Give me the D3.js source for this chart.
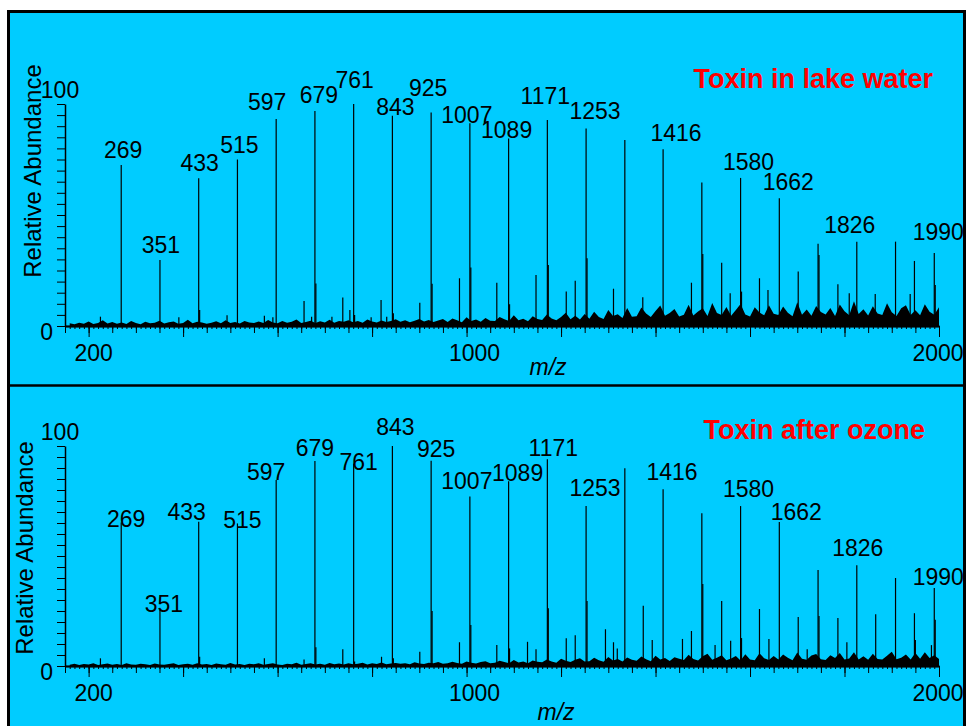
<!DOCTYPE html>
<html>
<head>
<meta charset="utf-8">
<script src="https://cdn.jsdelivr.net/npm/d3@7"></script>
<style>
  body { margin: 0; background: #fff; }
  svg { display: block; font-family: "Liberation Sans", Arial, sans-serif; }
</style>
</head>
<body>
<svg width="967" height="726"></svg>
<script>
// ---- data ----
var mzDomain = [150, 2000];
var peakMz = [269, 351, 433, 515, 597, 679, 761, 843, 925, 1007, 1089, 1171, 1253, 1335, 1416, 1498, 1580, 1662, 1744, 1826, 1908, 1990];
var lakeAbund = [72.5, 29.7, 66.5, 75, 93.2, 96.8, 100, 94.7, 96.2, 91.3, 84.5, 92.8, 89, 83.8, 79.6, 64.6, 66.7, 57.5, 37, 38, 38, 32.9];
var ozoneAbund = [65.2, 25.5, 65.6, 64.8, 84.5, 93.2, 92.1, 100, 93.3, 77, 84, 94, 72.7, 89.9, 80.3, 69.4, 72.7, 65.5, 43.6, 45.8, 40, 35.5];
var labelMz = [269, 351, 433, 515, 597, 679, 761, 843, 925, 1007, 1089, 1171, 1253, 1416, 1580, 1662, 1826, 1990];

var lakeMinorMz = [225, 391, 435, 493, 572, 590, 656, 672, 681, 715, 738, 753, 763, 798, 819, 831, 845, 901, 927, 985, 1009, 1064, 1091, 1147, 1173, 1211, 1230, 1255, 1311, 1373, 1476, 1500, 1540, 1558, 1582, 1620, 1638, 1702, 1746, 1786, 1810, 1865, 1939, 1948, 1992];
var lakeMinorAbund = [4.2, 3.9, 7.2, 4.8, 4.6, 3.9, 11.3, 4.2, 19.2, 4.2, 12.8, 7.2, 5, 3.9, 11.7, 4.2, 5.7, 10.5, 19, 21.5, 26.4, 19.5, 9.8, 23, 27.5, 15.5, 20.4, 30.5, 16.8, 12.9, 19.5, 32.4, 28.5, 14.7, 15.5, 21.5, 16.2, 24.5, 32, 18.8, 14.7, 14.4, 14.4, 29.3, 18.5];

var ozoneMinorMz = [225, 435, 572, 656, 681, 738, 763, 820, 845, 901, 927, 985, 1009, 1064, 1091, 1129, 1147, 1173, 1211, 1230, 1255, 1294, 1311, 1319, 1374, 1393, 1457, 1476, 1500, 1526, 1540, 1559, 1582, 1620, 1640, 1702, 1721, 1746, 1786, 1805, 1866, 1948, 1950, 1984, 1992];
var ozoneMinorAbund = [3.5, 4.2, 3.5, 3, 8.5, 7.6, 2, 4.2, 3.5, 6.5, 25, 10.8, 18.6, 9.5, 8, 11, 7.6, 26.2, 12.6, 14, 29.5, 16.7, 10.8, 8, 27.4, 11.8, 12.3, 15.9, 37.3, 9.5, 29.5, 11.5, 12.7, 25.9, 12.3, 22.3, 7.6, 22.7, 21.8, 10.8, 23.5, 24, 11.8, 9.5, 21];

// baseline noise, one value per 10 m/z from 160 to 2000
var noiseMz = d3.range(160, 2001, 10);
var lakeNoise = [
  1.2, 0.8, 1.5, 1.0, 2.0, 0.9, 1.4, 2.6, 1.1, 1.8,
  1.0, 1.6, 0.9, 2.2, 1.3, 0.8, 1.9, 1.2, 1.5, 2.4,
  1.1, 1.7, 2.0, 1.0, 1.4, 2.8, 1.2, 1.9, 1.6, 1.0,
  1.5, 2.1, 1.2, 2.6, 1.4, 1.8, 1.1, 2.3, 1.6, 1.3,
  2.0, 1.4, 2.7, 1.6, 1.2, 2.2, 1.5, 1.9, 2.9, 1.4,
  1.8, 2.4, 1.3, 2.1, 1.6, 2.8, 1.5, 2.2, 1.9, 2.6,
  1.7, 2.3, 1.5, 2.9, 2.0, 1.6, 2.5, 1.8, 2.2, 3.0,
  1.9, 2.6, 1.7, 2.4, 3.1, 2.0, 2.7, 1.8, 2.5, 3.2,
  1.8, 3.4, 2.6, 1.7, 3.9, 2.2, 2.9, 1.9, 3.6, 2.4,
  2.2, 4.1, 3.0, 2.3, 4.8, 2.6, 3.3, 2.1, 4.4, 3.1,
  2.7, 5.2, 3.4, 2.6, 4.1, 6.0, 3.0, 4.6, 2.9, 5.4,
  3.3, 6.4, 4.1, 3.1, 7.2, 4.5, 5.3, 3.6, 8.1, 4.2,
  4.4, 8.3, 5.6, 4.1, 6.8, 9.2, 4.6, 5.9, 7.7, 4.3,
  5.1, 9.6, 4.7, 6.5, 8.0, 4.5, 10.4, 5.8, 4.9, 8.6,
  4.6, 7.2, 9.9, 5.2, 4.3, 8.4, 6.1, 4.8, 9.3, 5.5,
  4.9, 8.8, 6.0, 4.4, 10.7, 5.1, 7.4, 4.6, 9.0, 6.3,
  5.2, 8.1, 4.5, 9.7, 6.6, 4.8, 11.2, 5.4, 7.5, 4.7,
  8.9, 5.6, 4.9, 10.3, 6.2, 4.5, 8.0, 9.4, 5.0, 7.1,
  4.8, 9.8, 6.4, 5.1, 8.5
];
var ozoneNoise = [
  0.6, 1.0, 0.5, 0.9, 0.7, 1.3, 0.5, 0.8, 1.1, 0.6,
  0.9, 0.5, 1.2, 0.7, 0.6, 1.0, 0.8, 0.5, 1.1, 0.7,
  0.6, 0.9, 1.3, 0.5, 0.8, 1.0, 0.6, 1.2, 0.7, 0.9,
  0.5, 1.1, 0.8, 0.6, 1.4, 0.7, 0.9, 0.5, 1.0, 0.8,
  1.2, 0.6, 0.9, 1.3, 0.7, 0.5, 1.0, 0.8, 1.5, 0.6,
  0.9, 1.2, 0.7, 1.0, 0.6, 1.4, 0.8, 1.1, 0.7, 1.3,
  0.8, 1.0, 1.5, 0.7, 1.2, 0.9, 1.6, 0.8, 1.1, 1.4,
  1.0, 1.3, 0.8, 1.7, 1.1, 0.9, 1.5, 1.2, 1.8, 1.0,
  1.2, 1.9, 1.4, 1.0, 2.1, 1.5, 1.1, 1.8, 2.2, 1.3,
  1.5, 2.4, 1.8, 1.2, 2.7, 1.6, 2.0, 1.3, 2.5, 1.9,
  1.7, 3.0, 2.1, 1.5, 3.3, 2.4, 1.8, 2.8, 3.5, 2.0,
  2.2, 3.7, 2.6, 1.9, 4.1, 2.5, 3.2, 2.1, 3.9, 2.8,
  2.4, 4.3, 3.1, 2.2, 4.7, 2.9, 3.6, 2.3, 4.0, 3.3,
  2.7, 5.1, 3.2, 2.5, 4.4, 5.6, 2.8, 3.7, 4.9, 2.6,
  3.4, 4.6, 2.5, 5.3, 3.0, 2.6, 5.8, 3.5, 2.7, 4.5,
  3.0, 5.2, 3.8, 2.6, 6.1, 3.3, 2.8, 4.8, 5.5, 3.1,
  2.7, 4.9, 3.6, 5.9, 2.9, 3.4, 6.3, 3.0, 4.4, 2.8,
  5.6, 3.2, 2.9, 4.7, 6.5, 3.1, 3.7, 5.2, 3.0, 5.9,
  3.3, 6.2, 3.6, 4.9, 3.2
];

var xTickLabels = [200, 1000, 2000];
var titles = ['Toxin in lake water', 'Toxin after ozone'];

// ---- layout ----
var svg = d3.select('svg');
var cyan = '#00ccff';

// label nudges (px) relative to each labelled peak top, as placed in the original
var lakeLabelNudge = [[2,-7],[1,-7],[1,-7],[2,-7],[-9,-9],[4,-8],[1,-16],[3,-1],[-3,-16],[-3,0],[-2,0],[-2,-16],[9,-9],[13,-8],[8,-8],[9,-8],[-7,-9],[4,-13]];
var ozoneLabelNudge = [[5,4],[4,2],[-12,-2],[5,5],[-10,0],[0,-5],[5,7],[3,-11],[5,-4],[-3,-8],[9,0],[6,-3],[9,-10],[9,-9],[8,-9],[17,-2],[1,-9],[4,-3]];
var xLabelNudge = [5, 8, -1];

var panels = [
  { top: 104, bottom: 326, main: lakeAbund, minorMz: lakeMinorMz, minorAbund: lakeMinorAbund, noise: lakeNoise,
    nudge: lakeLabelNudge, title: titles[0], titleX: 933, titleY: 88, ylabX: 41, ylabY: 171, mzX: 548, mzY: 375 },
  { top: 446, bottom: 666, main: ozoneAbund, minorMz: ozoneMinorMz, minorAbund: ozoneMinorAbund, noise: ozoneNoise,
    nudge: ozoneLabelNudge, title: titles[1], titleX: 925, titleY: 439, ylabX: 33, ylabY: 548, mzX: 556, mzY: 720 }
];

// frame
svg.append('rect')
  .attr('x', 8.5).attr('y', 11.5).attr('width', 956).attr('height', 740)
  .attr('fill', cyan).attr('stroke', '#000').attr('stroke-width', 3);
svg.append('line')
  .attr('x1', 8).attr('x2', 965).attr('y1', 385.5).attr('y2', 385.5)
  .attr('stroke', '#000').attr('stroke-width', 2.5);

var x = d3.scaleLinear().domain(mzDomain).range([65, 939]);

panels.forEach(function (p) {
  var y = d3.scaleLinear().domain([0, 100]).range([p.bottom, p.top]);
  var g = svg.append('g');

  // noise band
  g.append('path')
    .datum(noiseMz.map(function (m, i) { return { mz: m, v: p.noise[i] }; }))
    .attr('fill', '#000')
    .attr('d', d3.area().x(function (d) { return x(d.mz); }).y0(y(0)).y1(function (d) { return y(d.v); }));

  // minor peaks
  g.selectAll('.minor')
    .data(p.minorMz.map(function (m, i) { return { mz: m, v: p.minorAbund[i] }; }))
    .join('line')
    .attr('x1', function (d) { return x(d.mz); }).attr('x2', function (d) { return x(d.mz); })
    .attr('y1', y(0)).attr('y2', function (d) { return y(d.v); })
    .attr('stroke', '#000').attr('stroke-width', 1.2);

  // main peaks
  var mains = peakMz.map(function (m, i) { return { mz: m, v: p.main[i] }; });
  g.selectAll('.main')
    .data(mains)
    .join('line')
    .attr('x1', function (d) { return x(d.mz); }).attr('x2', function (d) { return x(d.mz); })
    .attr('y1', y(0)).attr('y2', function (d) { return y(d.v); })
    .attr('stroke', '#000').attr('stroke-width', 1.2);

  // peak labels
  g.selectAll('.plabel')
    .data(labelMz)
    .join('text')
    .attr('x', function (m, i) { return x(m) + p.nudge[i][0]; })
    .attr('y', function (m, i) { return y(p.main[peakMz.indexOf(m)]) + p.nudge[i][1]; })
    .attr('text-anchor', 'middle')
    .attr('font-size', 23)
    .attr('fill', '#000')
    .text(function (m) { return m; });

  // x axis: minor / medium / major ticks
  var xMinor = d3.axisBottom(x).tickValues(d3.range(160, 2001, 10)).tickSize(3).tickFormat('').tickSizeOuter(0);
  var xMed = d3.axisBottom(x).tickValues(d3.range(150, 2001, 50)).tickSize(7).tickFormat('').tickSizeOuter(0);
  var xMajor = d3.axisBottom(x).tickValues(d3.range(200, 2001, 200)).tickSize(11).tickFormat('').tickSizeOuter(0);
  [xMinor, xMed, xMajor].forEach(function (ax) {
    var a = g.append('g').attr('transform', 'translate(0,' + y(0) + ')').call(ax);
    a.select('.domain').attr('stroke', '#000').attr('stroke-width', 1.5);
    a.selectAll('.tick line').attr('stroke', '#000').attr('stroke-width', 1);
  });

  g.selectAll('.xlab')
    .data(xTickLabels)
    .join('text')
    .attr('x', function (d, i) { return x(d) + xLabelNudge[i]; })
    .attr('y', y(0) + 35)
    .attr('text-anchor', 'middle')
    .attr('font-size', 23)
    .text(function (d) { return d; });

  // y axis
  var yAxis = d3.axisLeft(y).tickValues(d3.range(0, 101, 5)).tickSize(8).tickFormat('').tickSizeOuter(0);
  var ya = g.append('g').attr('transform', 'translate(65,0)').call(yAxis);
  ya.select('.domain').attr('stroke', '#000').attr('stroke-width', 1.5);
  ya.selectAll('.tick line').attr('stroke', '#000').attr('stroke-width', 1);

  g.append('text').attr('x', 60).attr('y', y(100) - 6).attr('text-anchor', 'middle')
    .attr('font-size', 23).text('100');
  g.append('text').attr('x', 53).attr('y', y(0) + 14).attr('text-anchor', 'end')
    .attr('font-size', 23).text('0');

  g.append('text')
    .attr('transform', 'translate(' + p.ylabX + ',' + p.ylabY + ') rotate(-90)')
    .attr('text-anchor', 'middle')
    .attr('font-size', 24)
    .text('Relative Abundance');

  g.append('text')
    .attr('x', p.mzX).attr('y', p.mzY)
    .attr('text-anchor', 'middle')
    .attr('font-size', 23).attr('font-style', 'italic')
    .text('m/z');

  g.append('text')
    .attr('x', p.titleX).attr('y', p.titleY)
    .attr('text-anchor', 'end')
    .attr('font-size', 27).attr('font-weight', 'bold')
    .attr('fill', '#ff0000')
    .text(p.title);
});
</script>
</body>
</html>
